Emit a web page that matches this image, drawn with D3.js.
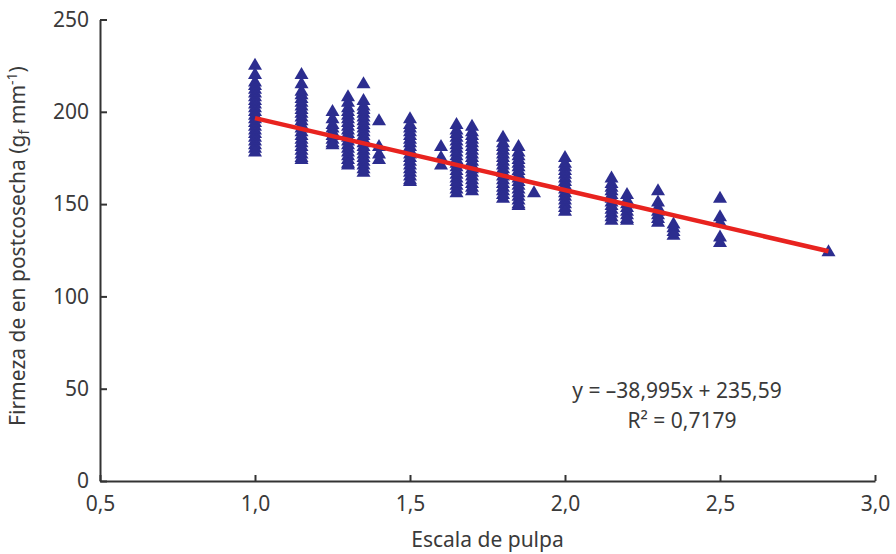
<!DOCTYPE html>
<html>
<head>
<meta charset="utf-8">
<script src="https://cdn.jsdelivr.net/npm/d3@7"></script>
<style>
  body { margin: 0; background: #fff; }
  text { font-family: "Noto Sans", "Open Sans", sans-serif; fill: #3a3a3a; }
</style>
</head>
<body>
<div id="drawing_region"></div>
<script>
// escala de pulpa (x) y firmeza medida en cada escala (y)
var escala = [1.0, 1.15, 1.25, 1.3, 1.35, 1.4, 1.5, 1.6, 1.65, 1.7, 1.8, 1.85, 1.9, 2.0, 2.15, 2.2, 2.3, 2.35, 2.5, 2.85];
var firmeza = [
    [226, 221, 217, 215, 213, 211, 209, 207, 205, 203, 201, 199, 197, 195, 193, 191, 189, 187, 185, 183, 181, 179],
    [221, 216, 212, 210, 208, 206, 204, 202, 200, 198, 196, 194, 192, 190, 188, 186, 184, 182, 180, 178, 176, 175],
    [201, 197, 194, 192, 190, 188, 186, 184, 183],
    [209, 206, 203, 201, 199, 197, 195, 193, 191, 189, 187, 185, 183, 181, 179, 177, 175, 173, 172],
    [216, 207, 204, 202, 200, 198, 196, 194, 192, 190, 188, 186, 184, 182, 180, 178, 176, 174, 172, 170, 168],
    [196, 182, 178, 175],
    [197, 194, 192, 190, 188, 186, 184, 182, 180, 178, 176, 174, 172, 170, 168, 166, 164, 163],
    [182, 176, 172],
    [194, 191, 189, 187, 185, 183, 181, 179, 177, 175, 173, 171, 169, 167, 165, 163, 161, 159, 157],
    [193, 190, 188, 186, 184, 182, 180, 178, 176, 174, 172, 170, 168, 166, 164, 162, 160, 158],
    [187, 184, 182, 180, 178, 176, 174, 172, 170, 168, 166, 164, 162, 160, 158, 156, 154],
    [182, 179, 177, 175, 173, 171, 169, 167, 165, 163, 161, 159, 157, 155, 153, 151, 150],
    [157],
    [176, 173, 171, 169, 167, 165, 163, 161, 159, 157, 155, 153, 151, 149, 147],
    [165, 162, 160, 158, 156, 154, 152, 150, 148, 146, 144, 142],
    [156, 153, 151, 149, 147, 145, 143, 142],
    [158, 152, 149, 147, 145, 143, 141],
    [140, 138, 136, 134],
    [154, 144, 141, 133, 130],
    [125]
];
var xTicks = [0.5, 1.0, 1.5, 2.0, 2.5, 3.0];
var yTicks = [0, 50, 100, 150, 200, 250];
// linea de tendencia
var pendiente = -38.995;
var intercepto = 235.59;
var tramo = [1.0, 2.85];
var ecuacion = ["y = \u201338,995x + 235,59", "R\u00b2 = 0,7179"];

var width = 896;
var height = 554;
var margin = { top: 19.5, right: 21, bottom: 73, left: 100 };

var puntos = [];
escala.forEach(function (x, i) {
    firmeza[i].forEach(function (y) { puntos.push({ x: x, y: y }); });
});

var svg = d3.select("#drawing_region")
    .append("svg")
    .attr("width", width)
    .attr("height", height);

var xScale = d3.scaleLinear()
    .domain([0.5, 3.0])
    .range([margin.left, width - margin.right]);

var yScale = d3.scaleLinear()
    .domain([0, 250])
    .range([height - margin.bottom, margin.top]);

var coma = function (d) { return d.toFixed(1).replace(".", ","); };

// ejes
svg.append("g")
    .attr("transform", "translate(0," + (height - margin.bottom) + ")")
    .call(d3.axisBottom(xScale).tickValues(xTicks).tickFormat(coma)
        .tickSizeInner(-6).tickSizeOuter(0).tickPadding(15));

svg.append("g")
    .attr("transform", "translate(" + margin.left + ",0)")
    .call(d3.axisLeft(yScale).tickValues(yTicks).tickFormat(d3.format("d"))
        .tickSizeInner(-7).tickSizeOuter(0).tickPadding(11));

svg.selectAll(".domain, .tick line")
    .attr("stroke", "#333")
    .attr("stroke-width", 2);
svg.selectAll(".tick text")
    .attr("font-size", 21)
    .attr("fill", "#3a3a3a");

// triangulos
var tri = "M0,-6L7,6L-7,6Z";
svg.append("g")
    .selectAll("path")
    .data(puntos)
    .enter()
    .append("path")
    .attr("d", tri)
    .attr("transform", function (d) { return "translate(" + xScale(d.x) + "," + yScale(d.y) + ")"; })
    .attr("fill", "#2c2d8f");

// tendencia
svg.append("line")
    .attr("x1", xScale(tramo[0]))
    .attr("y1", yScale(pendiente * tramo[0] + intercepto))
    .attr("x2", xScale(tramo[1]))
    .attr("y2", yScale(pendiente * tramo[1] + intercepto))
    .attr("stroke", "#e8231f")
    .attr("stroke-width", 4.5);

// textos
svg.append("text")
    .attr("x", 677).attr("y", 398)
    .attr("text-anchor", "middle")
    .attr("font-size", 21)
    .text(ecuacion[0]);
svg.append("text")
    .attr("x", 682).attr("y", 428)
    .attr("text-anchor", "middle")
    .attr("font-size", 21)
    .text(ecuacion[1]);

svg.append("text")
    .attr("x", (margin.left + width - margin.right) / 2)
    .attr("y", 547)
    .attr("text-anchor", "middle")
    .attr("font-size", 21)
    .text("Escala de pulpa");

var yl = svg.append("text")
    .attr("transform", "translate(25,246) rotate(-90)")
    .attr("text-anchor", "middle")
    .attr("font-size", 21);
yl.append("tspan").text("Firmeza de en postcosecha (g");
yl.append("tspan").attr("font-size", 14).attr("dy", 4).text("f");
yl.append("tspan").attr("dy", -4).text(" mm");
yl.append("tspan").attr("font-size", 14).attr("dy", -8).text("-1");
yl.append("tspan").attr("dy", 8).text(")");
</script>
</body>
</html>
